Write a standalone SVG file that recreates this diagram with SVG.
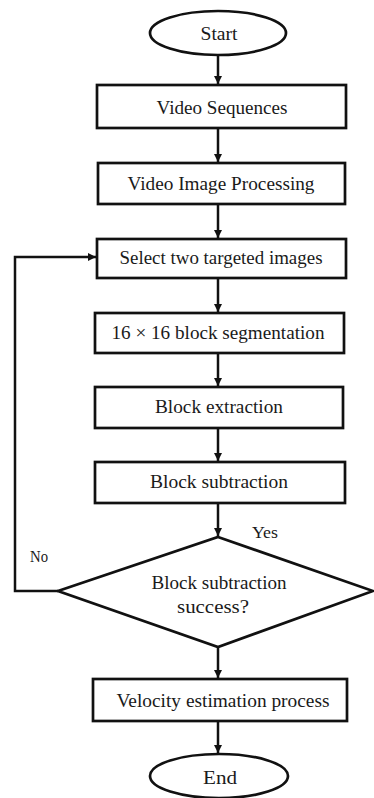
<svg xmlns="http://www.w3.org/2000/svg" width="374" height="798" viewBox="0 0 374 798">
  <defs>
    <marker id="arrow" viewBox="0 0 10 10" refX="10" refY="5" markerWidth="8" markerHeight="8" markerUnits="userSpaceOnUse" orient="auto">
      <path d="M0,0 L10,5 L0,10 Z" fill="#111"/>
    </marker>
    <style>
      .shape { fill: #fff; stroke: #111; stroke-width: 2.7; }
      .link { fill: none; stroke: #111; stroke-width: 2.5; marker-end: url(#arrow); }
      text { font-family: "Liberation Serif", "Times New Roman", serif; font-size: 19px; fill: #1a1a1a; text-anchor: middle; }
      .lbl { text-anchor: start; font-size: 17px; }
    </style>
  </defs>
  <rect width="374" height="798" fill="#fff"/>

  <g id="connectors">
    <line class="link" x1="218" y1="56" x2="218" y2="84"/>
    <line class="link" x1="218" y1="129" x2="218" y2="162"/>
    <line class="link" x1="218" y1="205" x2="218" y2="238"/>
    <line class="link" x1="218" y1="279" x2="218" y2="312"/>
    <line class="link" x1="218" y1="354" x2="218" y2="386"/>
    <line class="link" x1="218" y1="429" x2="218" y2="461"/>
    <line class="link" x1="218" y1="504" x2="218" y2="536"/>
    <line class="link" x1="218" y1="648" x2="218" y2="678"/>
    <line class="link" x1="218" y1="722" x2="218" y2="753"/>
    <polyline class="link" points="58,591 15,591 15,257 96,257"/>
    <text class="lbl" x="252" y="538" textLength="26" lengthAdjust="spacingAndGlyphs">Yes</text>
    <text class="lbl" x="30" y="562" textLength="18" lengthAdjust="spacingAndGlyphs">No</text>
  </g>

  <g id="start">
    <ellipse class="shape" cx="218" cy="33" rx="68" ry="22"/>
    <text x="219" y="40" textLength="37" lengthAdjust="spacingAndGlyphs">Start</text>
  </g>

  <g id="video-sequences">
    <rect class="shape" x="97" y="85" width="249" height="43"/>
    <text x="222" y="114" textLength="131" lengthAdjust="spacingAndGlyphs">Video Sequences</text>
  </g>

  <g id="video-image-processing">
    <rect class="shape" x="98" y="163" width="247" height="41"/>
    <text x="221" y="190" textLength="187" lengthAdjust="spacingAndGlyphs">Video Image Processing</text>
  </g>

  <g id="select-images">
    <rect class="shape" x="97" y="239" width="249" height="39"/>
    <text x="221" y="264" textLength="203" lengthAdjust="spacingAndGlyphs">Select two targeted images</text>
  </g>

  <g id="block-segmentation">
    <rect class="shape" x="95" y="313" width="249" height="40"/>
    <text x="218" y="339" textLength="213" lengthAdjust="spacingAndGlyphs">16 × 16 block segmentation</text>
  </g>

  <g id="block-extraction">
    <rect class="shape" x="95" y="387" width="248" height="41"/>
    <text x="219" y="413" textLength="128" lengthAdjust="spacingAndGlyphs">Block extraction</text>
  </g>

  <g id="block-subtraction">
    <rect class="shape" x="95" y="462" width="250" height="41"/>
    <text x="219" y="488" textLength="138" lengthAdjust="spacingAndGlyphs">Block subtraction</text>
  </g>

  <g id="subtraction-check">
    <polygon class="shape" points="218,537 373,591 218,647 58,591"/>
    <text x="219" y="589" textLength="135" lengthAdjust="spacingAndGlyphs">Block subtraction</text>
    <text x="213" y="613" textLength="72" lengthAdjust="spacingAndGlyphs">success?</text>
  </g>

  <g id="velocity-estimation">
    <rect class="shape" x="93" y="679" width="254" height="42"/>
    <text x="223" y="707" textLength="213" lengthAdjust="spacingAndGlyphs">Velocity estimation process</text>
  </g>

  <g id="end">
    <ellipse class="shape" cx="219" cy="776" rx="69" ry="22"/>
    <text x="220" y="784" textLength="34" lengthAdjust="spacingAndGlyphs">End</text>
  </g>
</svg>
